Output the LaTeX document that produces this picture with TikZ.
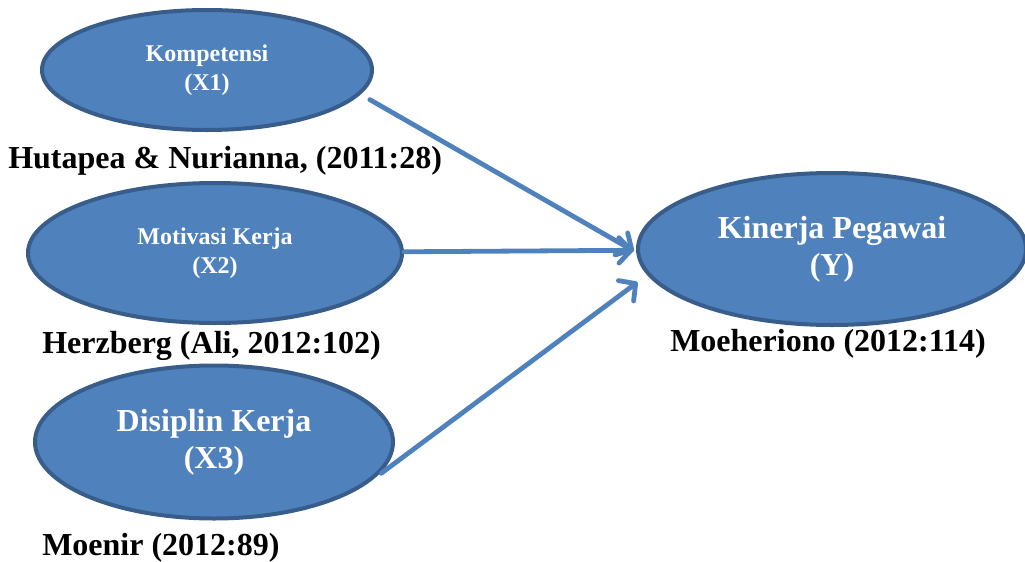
\documentclass[tikz,border=0pt]{standalone}
\usepackage{fontspec}
\setmainfont{Liberation Serif}
\usetikzlibrary{shapes.geometric,arrows.meta}
\definecolor{ovalblue}{HTML}{4F81BD}
\definecolor{ovalline}{HTML}{385D8A}

\begin{document}
\begin{tikzpicture}[x=0.75pt,y=-0.75pt,align=center,
  var/.style={ellipse,fill=ovalblue,draw=ovalline,line width=3pt,inner sep=0pt,text=white},
  small/.style={font=\bfseries\fontsize{18}{22}\selectfont},
  big/.style={font=\bfseries\fontsize{24}{28}\selectfont},
  src/.style={anchor=west,inner sep=0pt,font=\bfseries\fontsize{24}{28}\selectfont},
  link/.style={draw=ovalblue,line width=3.6pt,line cap=round,-{Straight Barb[length=9pt,width=19pt,round]}}]
  \useasboundingbox (0,0) rectangle (1025,561);
  \path  (207,70)   node[var,small,minimum width=247.5pt,minimum height=90pt](X1) {Kompetensi\\(X1)}
         (215,253)  node[var,small,minimum width=280.5pt,minimum height=105pt](X2) {Motivasi Kerja\\(X2)}
         (214,442)  node[var,big,minimum width=268.5pt,minimum height=114.75pt](X3) {Disiplin Kerja\\(X3)}
         (832,249)  node[var,big,minimum width=291pt,minimum height=114pt](Y) {Kinerja Pegawai\\(Y)};
  \path  (8,161)    node[src](S1) {Hutapea \& Nurianna, (2011:28)}
         (42,346)   node[src](S2) {Herzberg (Ali, 2012:102)}
         (42,548)   node[src](S3) {Moenir (2012:89)}
         (670,344)  node[src](SY) {Moeheriono (2012:114)};
  \draw [link,shorten <=8pt,shorten >=2pt] (X1.-9) -- (Y.181);
  \draw [link,shorten >=2pt] (X2) -- (Y);
  \draw [link,shorten <=7pt,shorten >=9pt] (X3.-13) -- (Y.188);
\end{tikzpicture}
\end{document}
